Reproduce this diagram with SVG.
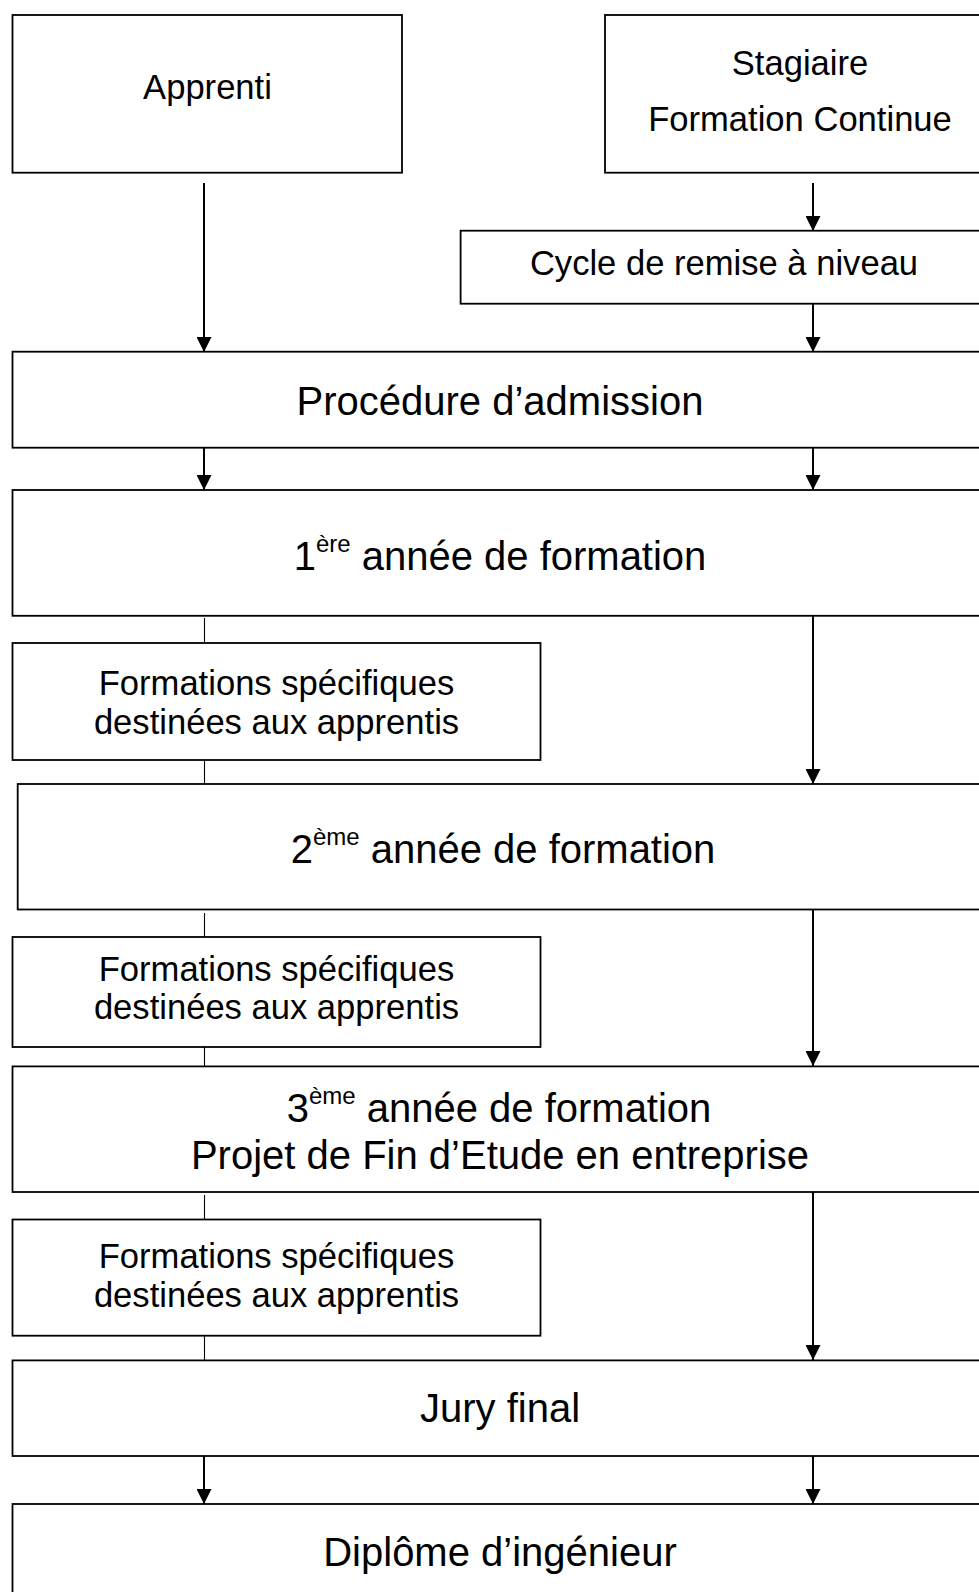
<svg xmlns="http://www.w3.org/2000/svg" width="979" height="1592" viewBox="0 0 979 1592">
<style>
.box{fill:#fff;stroke:#000;stroke-width:1.8}
.t{font-family:"Liberation Sans",Arial,sans-serif;fill:#000;text-anchor:middle}
.m{font-size:34.6px}
.l{font-size:40px}
.arr{stroke:#000;stroke-width:2;fill:none;marker-end:url(#ah)}
.thin{stroke:#000;stroke-width:1.1;fill:none}
</style>
<defs>
<marker id="ah" viewBox="0 0 15 15" refX="15" refY="7.5" markerWidth="15" markerHeight="15" markerUnits="userSpaceOnUse" orient="auto">
<path d="M0,0 L15,7.5 L0,15 Z" fill="#000"/>
</marker>
</defs>
<rect width="979" height="1592" fill="#fff"/>
<g id="connectors">
<line class="arr" x1="204" y1="183" x2="204" y2="352"/>
<line class="arr" x1="813" y1="183" x2="813" y2="231"/>
<line class="arr" x1="813" y1="304" x2="813" y2="352"/>
<line class="arr" x1="204" y1="448" x2="204" y2="490"/>
<line class="arr" x1="813" y1="448" x2="813" y2="490"/>
<line class="thin" x1="204.5" y1="618" x2="204.5" y2="643"/>
<line class="thin" x1="204.5" y1="760" x2="204.5" y2="784"/>
<line class="thin" x1="204.5" y1="913" x2="204.5" y2="937"/>
<line class="thin" x1="204.5" y1="1047" x2="204.5" y2="1066"/>
<line class="thin" x1="204.5" y1="1195" x2="204.5" y2="1220"/>
<line class="thin" x1="204.5" y1="1336" x2="204.5" y2="1360"/>
<line class="arr" x1="813" y1="616" x2="813" y2="784"/>
<line class="arr" x1="813" y1="910" x2="813" y2="1066"/>
<line class="arr" x1="813" y1="1192" x2="813" y2="1360"/>
<line class="arr" x1="204" y1="1456" x2="204" y2="1504"/>
<line class="arr" x1="813" y1="1456" x2="813" y2="1504"/>
</g>
<g id="apprenti">
<rect class="box" x="12.5" y="15" width="389.5" height="157.7"/>
<text class="t m" x="207.5" y="99">Apprenti</text>
</g>
<g id="stagiaire">
<rect class="box" x="605" y="15" width="395" height="157.7"/>
<text class="t m" x="800" y="75">Stagiaire</text>
<text class="t m" x="800" y="131">Formation Continue</text>
</g>
<g id="cycle">
<rect class="box" x="460.6" y="230.7" width="540" height="73"/>
<text class="t m" x="724" y="275">Cycle de remise à niveau</text>
</g>
<g id="admission">
<rect class="box" x="12.5" y="351.7" width="990" height="96"/>
<text class="t l" x="500" y="415">Procédure d’admission</text>
</g>
<g id="annee1">
<rect class="box" x="12.5" y="490" width="990" height="125.8"/>
<text class="t l" x="500" y="570">1<tspan font-size="24" dy="-18">ère</tspan><tspan dy="18"> année de formation</tspan></text>
</g>
<g id="formations1">
<rect class="box" x="12.5" y="643" width="528" height="117"/>
<text class="t m" x="276.5" y="695">Formations spécifiques</text>
<text class="t m" x="276.5" y="733.5">destinées aux apprentis</text>
</g>
<g id="annee2">
<rect class="box" x="17.7" y="784" width="990" height="125.5"/>
<text class="t l" x="503" y="863">2<tspan font-size="24" dy="-18">ème</tspan><tspan dy="18"> année de formation</tspan></text>
</g>
<g id="formations2">
<rect class="box" x="12.5" y="937" width="528" height="110"/>
<text class="t m" x="276.5" y="980.5">Formations spécifiques</text>
<text class="t m" x="276.5" y="1019">destinées aux apprentis</text>
</g>
<g id="annee3">
<rect class="box" x="12.5" y="1066.4" width="990" height="125.6"/>
<text class="t l" x="499" y="1122">3<tspan font-size="24" dy="-18">ème</tspan><tspan dy="18"> année de formation</tspan></text>
<text class="t l" x="500" y="1168.5">Projet de Fin d’Etude en entreprise</text>
</g>
<g id="formations3">
<rect class="box" x="12.5" y="1219.5" width="528" height="116.2"/>
<text class="t m" x="276.5" y="1268">Formations spécifiques</text>
<text class="t m" x="276.5" y="1307">destinées aux apprentis</text>
</g>
<g id="jury">
<rect class="box" x="12.5" y="1360.4" width="990" height="95.6"/>
<text class="t l" x="500" y="1422">Jury final</text>
</g>
<g id="diplome">
<rect class="box" x="12.5" y="1504" width="990" height="120"/>
<text class="t l" x="500" y="1565.5">Diplôme d’ingénieur</text>
</g>
</svg>
